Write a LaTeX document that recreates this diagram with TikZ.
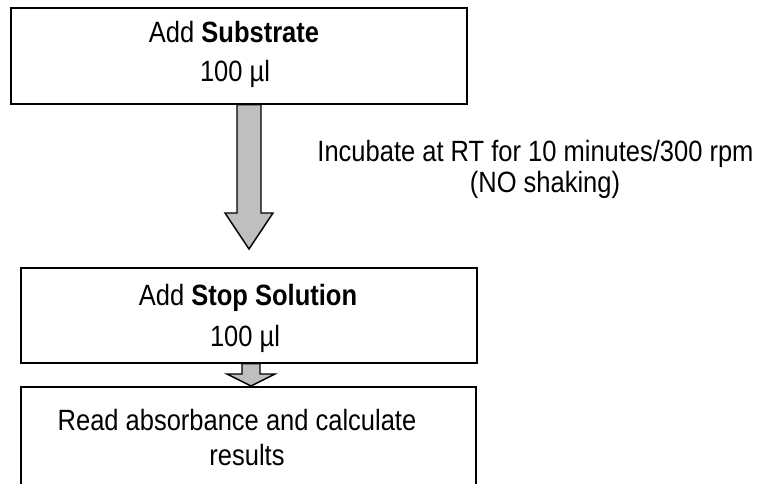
\documentclass[tikz,border=0pt]{standalone}
\usepackage{graphicx}
\usepackage{fontspec}
\setmainfont{Liberation Sans}
\usetikzlibrary{calc}

% text set a little taller than wide
\newcommand\talltext[1]{\scalebox{1}[1.15]{#1}}

% block arrow pointing down: #1 start, #2 tip, #3 shaft half width,
% #4 head half width, #5 head length
\newcommand\blockdownarrow[5]{%
  \filldraw[arrowblock]
    ($(#1)+(-#3,0)$) -- ($(#1)+(#3,0)$) -- ($(#2)+(#3,-#5)$) --
    ($(#2)+(#4,-#5)$) -- (#2) -- ($(#2)+(-#4,-#5)$) --
    ($(#2)+(-#3,-#5)$) -- cycle;}

\begin{document}
\begin{tikzpicture}[x=1pt,y=-1pt,
  stepbox/.style={draw=black, line width=1.6pt, rectangle, inner sep=0pt,
    anchor=north west},
  label/.style={inner sep=0pt, anchor=base,
    font=\fontsize{25.5}{30}\selectfont},
  arrowblock/.style={fill=black!25, draw=black, line width=1.4pt,
    line join=miter}]
\path[use as bounding box] (0,0) rectangle (769,483);
\clip (0,0) rectangle (769,483);

% process boxes
\node[stepbox, minimum width=456pt, minimum height=96pt] (top) at (10,7) {};
\node[stepbox, minimum width=456pt, minimum height=95pt] (stop) at (20,267) {};
\node[stepbox, minimum width=455pt, minimum height=130pt] (read) at (20,386) {};

% box texts
\node[label] (topa) at (234,42) {\talltext{Add \textbf{Substrate}}};
\node[label] (topb) at (235,81) {\talltext{100 µl}};
\node[label] (stopa) at (248,305) {\talltext{Add \textbf{Stop Solution}}};
\node[label] (stopb) at (245,346) {\talltext{100 µl}};
\node[label] (reada) at (237,430) {\talltext{Read absorbance and calculate}};
\node[label] (readb) at (247,465) {\talltext{results}};

% incubation note
\node[label] (inca) at (535.5,161) {\talltext{Incubate at RT for 10 minutes/300 rpm}};
\node[label] (incb) at (545,192) {\talltext{(NO shaking)}};

% arrows between steps
\coordinate (a1e) at (249,249);
\coordinate (a1s) at (top.south -| a1e);
\blockdownarrow{a1s}{a1e}{12}{24}{36}
\coordinate (a2e) at (251,386);
\coordinate (a2s) at (stop.south -| a2e);
\blockdownarrow{a2s}{a2e}{9}{24}{12}
\end{tikzpicture}
\end{document}
